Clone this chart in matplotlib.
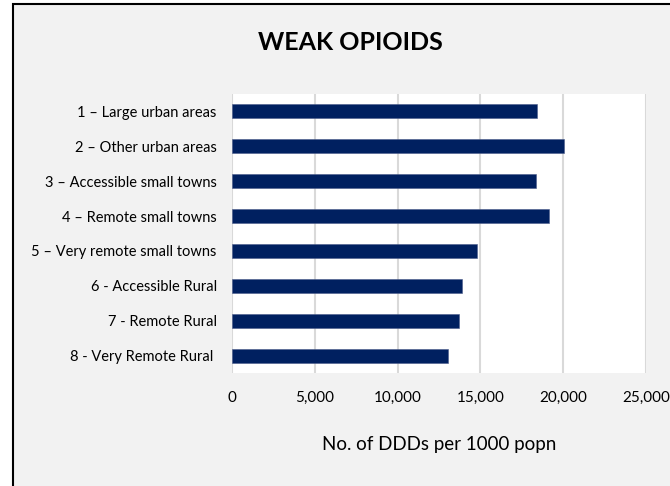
import matplotlib
matplotlib.use('Agg')
import matplotlib.pyplot as plt
from matplotlib.patches import Rectangle
from matplotlib.ticker import FuncFormatter

# areas (urban/rural classification) and values
areas = ['1 – Large urban areas', '2 – Other urban areas', '3 – Accessible small towns',
         '4 – Remote small towns', '5 – Very remote small towns', '6 - Accessible Rural',
         '7 - Remote Rural', '8 - Very Remote Rural ']
ddds = [18440, 20070, 18380, 19160, 14800, 13870, 13710, 13060]
xticks = [0, 5000, 10000, 15000, 20000, 25000]

plt.rcParams['font.family'] = ['Lato', 'DejaVu Sans']

fig = plt.figure(figsize=(6.7, 4.86), dpi=100, facecolor='white')
# chart area background with border (only top/left visible in the crop)
fig.patches.append(Rectangle((13/670, -0.1), 1.2, 1 - 4/486 + 0.1, transform=fig.transFigure,
                             facecolor='#F2F2F2', edgecolor='black', linewidth=1.5, zorder=-1))

ax = fig.add_axes([232/670, 1 - 373/486, 414/670, 279/486])
ax.set_facecolor('white')
y = list(range(len(areas)))
ax.barh(y, ddds, height=0.4, color='#002060', edgecolor='#4a5a8a', linewidth=0.4, zorder=3)
ax.set_ylim(len(areas) - 0.5, -0.5)
ax.set_xlim(0, 25000)
ax.set_xticks(xticks)
ax.xaxis.set_major_formatter(FuncFormatter(lambda v, p: f'{int(v):,}'))
ax.set_yticks(y)
ax.set_yticklabels(areas, fontsize=10.5)
ax.tick_params(axis='y', length=0, pad=11)
ax.tick_params(axis='x', length=0, pad=13, labelsize=11)
ax.grid(axis='x', color='#D9D9D9', linewidth=1.5, zorder=0)
for s in ax.spines.values():
    s.set_visible(False)
ax.set_xlabel('No. of DDDs per 1000 popn', fontsize=13.5, labelpad=22)

fig.text(350/670, 1 - 43/486, 'WEAK OPIOIDS', fontsize=18, fontweight='bold',
         ha='center', va='center')

fig.savefig('out.png', dpi=100, facecolor=fig.get_facecolor())
